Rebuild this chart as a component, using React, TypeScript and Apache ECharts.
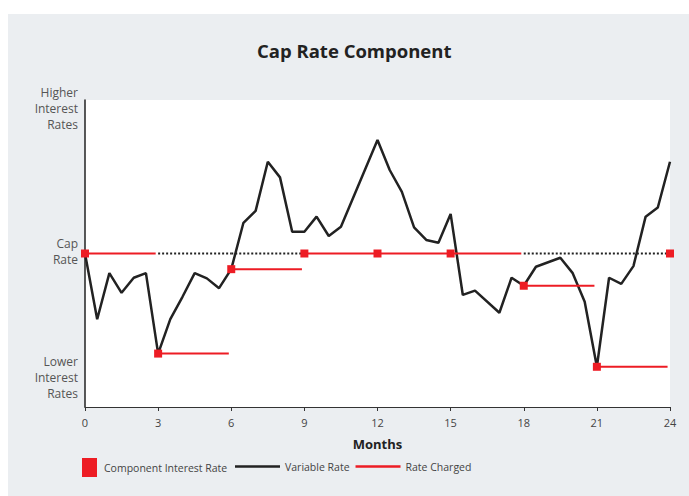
import React, { useEffect, useRef } from "react";
import * as echarts from "echarts";

const varMonths = [0, 0.5, 1, 1.5, 2, 2.5, 3, 3.5, 4, 4.5, 5, 5.5, 6, 6.5, 7, 7.5, 8, 8.5, 9, 9.5, 10, 10.5, 12, 12.5, 13, 13.5, 14, 14.5, 15, 15.5, 16, 17, 17.5, 18, 18.5, 19.5, 20, 20.5, 21, 21.5, 22, 22.5, 23, 23.5, 24];
const varValues = [50, 28.6, 43.6, 37.2, 42.1, 43.6, 17.4, 28.6, 35.9, 43.6, 41.9, 38.7, 44.9, 60, 63.9, 79.9, 74.8, 57.1, 57.1, 62, 55.7, 58.7, 87, 77.2, 70.1, 58.5, 54.4, 53.5, 62.9, 36.5, 37.9, 30.7, 42.1, 39.5, 45.7, 48.6, 43.7, 34.3, 13.1, 42.1, 40.1, 45.9, 62, 65, 79.9];

const resetMonths = [0, 3, 6, 9, 12, 15, 18, 21, 24];
const componentValues = [50, 17.4, 44.9, 50, 50, 50, 39.5, 13.1, 50];

const capRate = 50;
const xTicks = [0, 3, 6, 9, 12, 15, 18, 21, 24];

const yLabels = [
  { text: "Higher\nInterest\nRates", value: 97.2 },
  { text: "Cap\nRate", value: 50.6 },
  { text: "Lower\nInterest\nRates", value: 9.5 },
];

const FONT = '"Open Sans", "Noto Sans", sans-serif';
const RED = "#ed1c24";
const BLACK = "#222222";

export default function App() {
  const ref = useRef<HTMLDivElement>(null);

  useEffect(() => {
    if (!ref.current) return;
    const chart = echarts.init(ref.current, null, { renderer: "svg" });

    const redSegments: any[] = [];
    const capSegments: any[] = [];
    for (let i = 0; i < resetMonths.length - 1; i++) {
      redSegments.push({
        type: "line",
        name: "Rate Charged",
        symbol: "none",
        z: 4,
        lineStyle: { color: RED, width: 2 },
        itemStyle: { color: RED },
        data: [
          [resetMonths[i], componentValues[i]],
          [resetMonths[i + 1] - 0.1, componentValues[i]],
        ],
      });
      if (componentValues[i] < capRate) {
        capSegments.push({
          type: "line",
          name: "Cap",
          symbol: "none",
          z: 1,
          silent: true,
          lineStyle: { color: BLACK, width: 2, type: [2, 2] },
          data: [
            [resetMonths[i], capRate],
            [resetMonths[i + 1], capRate],
          ],
        });
      }
    }

    const option: any = {
      animation: false,
      backgroundColor: "#ebeef1",
      textStyle: { fontFamily: FONT },
      title: {
        text: "Cap Rate Component",
        left: 244,
        top: 22,
        textStyle: { fontSize: 18.5, fontWeight: "bold", color: "#222", fontFamily: FONT },
      },
      grid: {
        left: 77,
        right: 19,
        top: 86,
        bottom: 89,
        show: true,
        backgroundColor: "#ffffff",
        borderWidth: 0,
      },
      legend: [
        {
          data: ["Component Interest Rate"],
          left: 69,
          top: 439,
          icon: "rect",
          itemWidth: 15,
          itemHeight: 19,
          itemStyle: { opacity: 1 },
          textStyle: { fontSize: 10.5, color: "#444", fontFamily: FONT, padding: [0, 0, 0, 2] },
        },
        {
          data: ["Variable Rate", "Rate Charged"],
          left: 222,
          top: 442,
          icon: "rect",
          itemWidth: 45,
          itemHeight: 2.5,
          itemGap: 6,
          textStyle: { fontSize: 10.5, color: "#444", fontFamily: FONT },
        },
      ],
      xAxis: {
        type: "value",
        min: 0,
        max: 24,
        interval: 3,
        name: "Months",
        nameLocation: "middle",
        nameGap: 30,
        nameTextStyle: { fontSize: 13, fontWeight: "bold", color: "#222", fontFamily: FONT },
        axisLine: { lineStyle: { color: "#333", width: 1 } },
        axisTick: { show: true, length: 4, lineStyle: { color: "#333" } },
        axisLabel: {
          fontSize: 11,
          color: "#444",
          margin: 10,
          formatter: (v: number) => (xTicks.includes(v) ? String(v) : ""),
        },
        splitLine: { show: false },
      },
      yAxis: {
        type: "value",
        min: 0,
        max: 100,
        axisLine: { show: true, lineStyle: { color: BLACK, width: 1.5 } },
        axisTick: { show: false },
        axisLabel: { show: false },
        splitLine: { show: false },
      },
      series: [
        ...capSegments,
        {
          type: "line",
          name: "Variable Rate",
          symbol: "none",
          z: 3,
          lineStyle: { color: BLACK, width: 2.5 },
          itemStyle: { color: BLACK },
          data: varMonths.map((m, i) => [m, varValues[i]]),
        },
        ...redSegments,
        {
          type: "scatter",
          name: "Component Interest Rate",
          symbol: "rect",
          symbolSize: 8,
          z: 5,
          itemStyle: { color: RED, opacity: 1 },
          data: resetMonths.map((m, i) => [m, componentValues[i]]),
        },
      ],
    };

    chart.setOption(option);

    const graphics = yLabels.map((l) => {
      const p = chart.convertToPixel({ gridIndex: 0 }, [0, l.value]) as number[];
      return {
        type: "text",
        x: 70,
        y: p[1],
        style: {
          text: l.text,
          align: "right",
          verticalAlign: "middle",
          fill: "#555",
          fontSize: 12,
          fontFamily: FONT,
          lineHeight: 16,
        },
      };
    });
    chart.setOption({ graphic: graphics });

    return () => chart.dispose();
  }, []);

  return (
    <div
      ref={ref}
      style={{ position: "absolute", left: 8, top: 14, width: 681, height: 482 }}
    />
  );
}
